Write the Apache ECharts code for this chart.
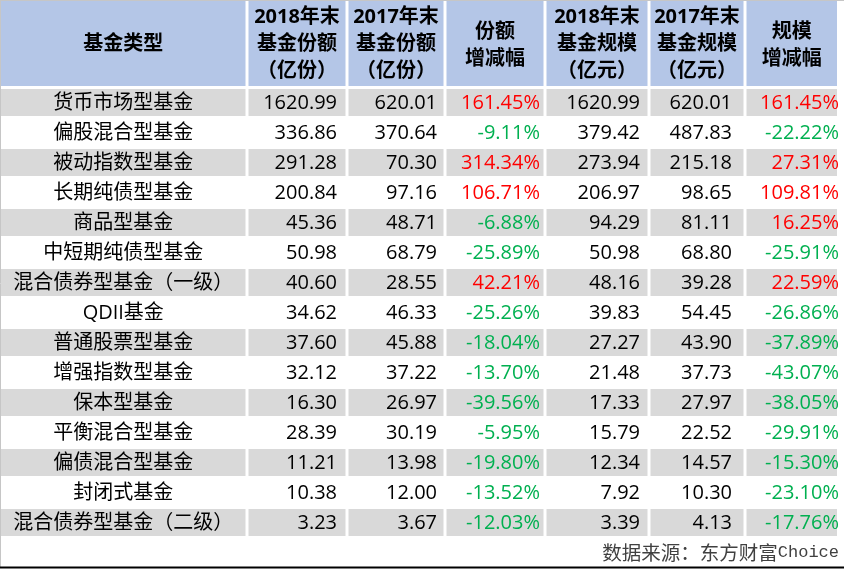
<!DOCTYPE html>
<html><head><meta charset="utf-8">
<script src="https://cdn.jsdelivr.net/npm/echarts@6/dist/echarts.min.js"></script>
<style>html,body{margin:0;padding:0;background:#fff}#c{width:844px;height:569px}</style>
</head><body><div id="c"></div>
<script>
// ---- data ----
const headers = ['基金类型', '2018年末\n基金份额\n（亿份）', '2017年末\n基金份额\n（亿份）', '份额\n增减幅',
  '2018年末\n基金规模\n（亿元）', '2017年末\n基金规模\n（亿元）', '规模\n增减幅'];
const fundTypes = ['货币市场型基金', '偏股混合型基金', '被动指数型基金', '长期纯债型基金', '商品型基金',
  '中短期纯债型基金', '混合债券型基金（一级）', 'QDII基金', '普通股票型基金', '增强指数型基金',
  '保本型基金', '平衡混合型基金', '偏债混合型基金', '封闭式基金', '混合债券型基金（二级）'];
const share2018 = [1620.99, 336.86, 291.28, 200.84, 45.36, 50.98, 40.60, 34.62, 37.60, 32.12, 16.30, 28.39, 11.21, 10.38, 3.23];
const share2017 = [620.01, 370.64, 70.30, 97.16, 48.71, 68.79, 28.55, 46.33, 45.88, 37.22, 26.97, 30.19, 13.98, 12.00, 3.67];
const shareChange = [161.45, -9.11, 314.34, 106.71, -6.88, -25.89, 42.21, -25.26, -18.04, -13.70, -39.56, -5.95, -19.80, -13.52, -12.03];
const size2018 = [1620.99, 379.42, 273.94, 206.97, 94.29, 50.98, 48.16, 39.83, 27.27, 21.48, 17.33, 15.79, 12.34, 7.92, 3.39];
const size2017 = [620.01, 487.83, 215.18, 98.65, 81.11, 68.80, 39.28, 54.45, 43.90, 37.73, 27.97, 22.52, 14.57, 10.30, 4.13];
const sizeChange = [161.45, -22.22, 27.31, 109.81, 16.25, -25.91, 22.59, -26.86, -37.89, -43.07, -38.05, -29.91, -15.30, -23.10, -17.76];
const sourceNote = ['数据来源：东方财富', 'Choice'];

// ---- layout / style ----
const COL_EDGES = [0.5, 247, 347, 445, 545, 649, 745, 838.5];
const TEXT_RIGHT = [null, 337, 437, 540, 640, 732, 839];
const HEADER_TOP = 0.5, HEADER_BOTTOM = 87.5, ROW_H = 30, GAP = 1.5;
const BLUE = '#b4c6e7', GRAY = '#d9d9d9', RED = '#ff0000', GREEN = '#00b050';
const FONT = '20px "Open Sans", "Noto Sans CJK SC", sans-serif';
const FONT_B = 'bold 20px "Open Sans", "Noto Sans CJK SC", sans-serif';

const columns = [fundTypes, share2018, share2017, shareChange, size2018, size2017, sizeChange];
const isPct = [false, false, false, true, false, false, true];

const cells = [];
for (let c = 0; c < headers.length; c++) cells.push([c, -1]);
for (let r = 0; r < fundTypes.length; r++)
  for (let c = 0; c < columns.length; c++) cells.push([c, r]);

function cellText(c, r) {
  if (r < 0) return headers[c];
  const v = columns[c][r];
  if (c === 0) return v;
  return isPct[c] ? v.toFixed(2) + '%' : v.toFixed(2);
}

function renderItem(params, api) {
  const c = api.value(0), r = api.value(1);
  const yTop = r < 0 ? HEADER_TOP : HEADER_BOTTOM + r * ROW_H;
  const yBot = r < 0 ? HEADER_BOTTOM : HEADER_BOTTOM + (r + 1) * ROW_H;
  const p0 = api.coord([COL_EDGES[c], yTop]);
  const p1 = api.coord([COL_EDGES[c + 1], yBot]);
  const x0 = p0[0] + (c === 0 ? 0.5 : GAP), x1 = p1[0] - GAP;
  const y0 = p0[1] + (r < 0 ? 0.5 : GAP), y1 = p1[1] - GAP;
  const children = [];
  let fill = null;
  if (r < 0) fill = BLUE; else if (r % 2 === 0) fill = GRAY;
  if (fill) children.push({type: 'rect', shape: {x: x0, y: y0, width: x1 - x0, height: y1 - y0}, style: {fill: fill}});
  const txt = cellText(c, r);
  const cy = (y0 + y1) / 2 + 1;
  if (r < 0) {
    const lines = txt.split('\n').length;
    children.push({type: 'text', style: {text: txt, x: (x0 + x1) / 2, y: cy + (lines === 2 ? 1.5 : -0.5),
      align: 'center', verticalAlign: 'middle', font: FONT_B, lineHeight: 27, fill: '#000'}});
  } else if (c === 0) {
    children.push({type: 'text', style: {text: txt, x: (x0 + x1) / 2, y: cy, align: 'center', verticalAlign: 'middle', font: FONT, fill: '#000'}});
  } else {
    let color = '#000';
    if (isPct[c]) color = columns[c][r] > 0 ? RED : GREEN;
    children.push({type: 'text', style: {text: txt, x: api.coord([TEXT_RIGHT[c], 0])[0], y: cy, align: 'right', verticalAlign: 'middle', font: FONT, fill: color}});
  }
  return {type: 'group', children: children};
}

const chart = echarts.init(document.getElementById('c'), null, {renderer: 'canvas'});
chart.setOption({
  animation: false,
  grid: {left: 0, top: 0, width: 844, height: 569},
  xAxis: {type: 'value', min: 0, max: 844, show: false},
  yAxis: {type: 'value', min: 0, max: 569, inverse: true, show: false},
  series: [{type: 'custom', renderItem: renderItem, data: cells, clip: false, silent: true}],
  graphic: [
    {type: 'line', shape: {x1: 0.5, y1: 0, x2: 0.5, y2: 567}, style: {stroke: '#c6c6c6', lineWidth: 1}},
    {type: 'line', shape: {x1: 0, y1: 0.5, x2: 844, y2: 0.5}, style: {stroke: '#c6c6c6', lineWidth: 1}},
    {type: 'line', shape: {x1: 0, y1: 567.5, x2: 844, y2: 567.5}, style: {stroke: '#000', lineWidth: 2}},
    {type: 'text', right: 5, top: 543, style: {
      text: '{a|' + sourceNote[0] + '}{b|' + sourceNote[1] + '}',
      rich: {
        a: {font: '19.5px "Noto Sans CJK SC", sans-serif', fill: '#404040'},
        b: {font: '17px "Liberation Mono", monospace', fill: '#404040'}
      }
    }}
  ]
});
</script></body></html>
